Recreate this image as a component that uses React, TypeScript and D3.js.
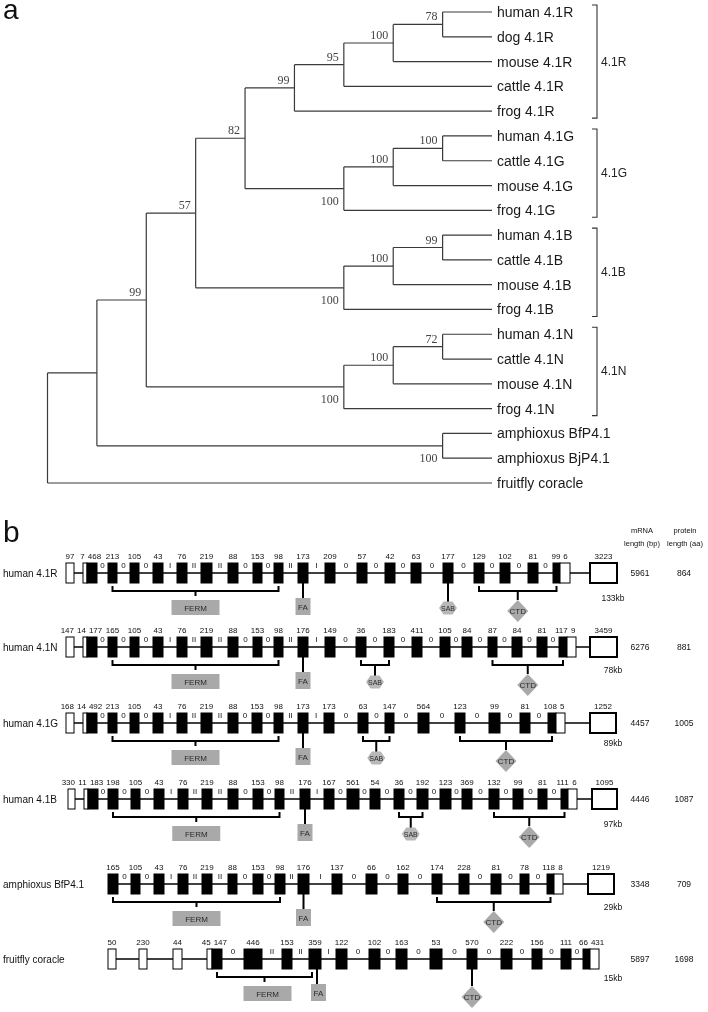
import React from 'react';
import * as d3 from 'd3';

// ---------------- Panel a: phylogeny (Newick with bootstrap supports) ----------------
const clade41R = '((((human 4.1R,dog 4.1R)78,mouse 4.1R)100,cattle 4.1R)95,frog 4.1R)99';
const clade41G = '(((human 4.1G,cattle 4.1G)100,mouse 4.1G)100,frog 4.1G)100';
const clade41B = '(((human 4.1B,cattle 4.1B)99,mouse 4.1B)100,frog 4.1B)100';
const clade41N = '(((human 4.1N,cattle 4.1N)72,mouse 4.1N)100,frog 4.1N)100';
const cladeAmph = '(amphioxus BfP4.1,amphioxus BjP4.1)100';
const NEWICK = `(((((${clade41R},${clade41G})82,${clade41B})57,${clade41N})99,${cladeAmph}),fruitfly coracle);`;
const cladeNames = ['4.1R', '4.1G', '4.1B', '4.1N'];

// ---------------- Panel b: gene structures ----------------
const geneNames = ['human 4.1R', 'human 4.1N', 'human 4.1G', 'human 4.1B', 'amphioxus BfP4.1', 'fruitfly coracle'];
const mrnaLength = [5961, 6276, 4457, 4446, 3348, 5897];
const proteinLength = [864, 881, 1005, 1087, 709, 1698];
const genomicSize = ['133kb', '78kb', '89kb', '97kb', '29kb', '15kb'];

const exons41R = [97, 7, 468, 213, 105, 43, 76, 219, 88, 153, 98, 173, 209, 57, 42, 63, 177, 129, 102, 81, 99, 6, 3223];
const kinds41R = 'ww' + 'b'.repeat(19) + 'wu';
const phases41R = ['0', '0', '0', 'I', 'II', 'II', '0', '0', 'II', 'I', '0', '0', '0', '0', '0', '0', '0', '0'];

const exons41N = [147, 14, 177, 165, 105, 43, 76, 219, 88, 153, 98, 176, 149, 36, 183, 411, 105, 84, 87, 84, 81, 117, 9, 3459];
const kinds41N = 'ww' + 'b'.repeat(20) + 'wu';
const phases41N = ['0', '0', '0', 'I', 'II', 'II', '0', '0', 'II', 'I', '0', '0', '0', '0', '0', '0', '0', '0', '0'];

const exons41G = [168, 14, 492, 213, 105, 43, 76, 219, 88, 153, 98, 173, 173, 63, 147, 564, 123, 99, 81, 108, 5, 1252];
const kinds41G = 'ww' + 'b'.repeat(18) + 'wu';
const phases41G = ['0', '0', '0', 'I', 'II', 'II', '0', '0', 'II', 'I', '0', '0', '0', '0', '0', '0', '0'];

const exons41B = [330, 11, 183, 198, 105, 43, 76, 219, 88, 153, 98, 176, 167, 561, 54, 36, 192, 123, 369, 132, 99, 81, 111, 6, 1095];
const kinds41B = 'ww' + 'b'.repeat(21) + 'wu';
const phases41B = ['0', '0', '0', 'I', 'II', 'II', '0', '0', 'II', 'I', '0', '0', '0', '0', '0', '0', '0', '0', '0', '0'];

const exonsBf = [165, 105, 43, 76, 219, 88, 153, 98, 176, 137, 66, 162, 174, 228, 81, 78, 118, 8, 1219];
const kindsBf = 'b'.repeat(17) + 'wu';
const phasesBf = ['0', '0', 'I', 'II', 'II', '0', '0', 'II', 'I', '0', '0', '0', '', '0', '0', '0'];

const exonsDm = [50, 230, 44, 45, 147, 446, 153, 359, 122, 102, 163, 53, 570, 222, 156, 111, 66, 431];
const kindsDm = 'wwww' + 'b'.repeat(13) + 'w';
const phasesDm = ['0', 'II', 'II', 'I', '0', '0', '0', '0', '0', '0', '0', '0'];

// domain -> exon indices
const fermExons = [[3, 10], [3, 10], [3, 10], [3, 10], [0, 7], [4, 7]];
const faExon = [11, 11, 11, 11, 8, 7];
const sabExons: (number[] | null)[] = [[16, 16], [13, 14], [13, 14], [15, 16], null, null];
const ctdExons = [[17, 20], [18, 21], [16, 19], [19, 22], [12, 16], [12, 12]];

// ---------------- schematic layout (not data) ----------------
const rowY = [573, 647, 723, 799, 884, 959];
const kbDy = [28, 26, 23, 28, 26, 22];
const exLeft = [
  [66, 83, 87, 108, 130, 153, 177, 201, 228, 253, 274, 298, 325, 357, 385, 411, 443, 474, 500, 528, 553, 560, 590],
  [66, 83, 87, 108, 130, 153, 177, 201, 228, 253, 274, 298, 325, 356, 384, 412, 440, 462, 488, 512, 537, 559, 567, 590],
  [66, 83, 87, 108, 130, 153, 177, 201, 228, 252, 274, 298, 324, 358, 385, 418, 455, 489, 520, 548, 556, 590],
  [68, 84, 88, 108, 131, 154, 178, 202, 228, 253, 275, 300, 324, 347, 370, 394, 417, 440, 462, 489, 513, 538, 561, 568, 592],
  [108, 131, 154, 178, 202, 228, 253, 275, 298, 332, 366, 398, 432, 459, 491, 520, 547, 554, 588],
  [108, 139, 173, 207, 212, 244, 282, 309, 336, 369, 396, 430, 467, 501, 532, 561, 583, 590],
];
const exRight = [
  [74, 87, 97, 117, 139, 163, 187, 212, 238, 262, 283, 308, 335, 367, 395, 421, 453, 484, 510, 538, 560, 570, 617],
  [74, 87, 97, 117, 139, 163, 187, 212, 238, 262, 283, 308, 335, 366, 394, 422, 450, 472, 497, 522, 547, 567, 576, 617],
  [74, 87, 97, 117, 139, 163, 187, 212, 238, 262, 283, 308, 334, 368, 394, 429, 465, 500, 530, 556, 565, 616],
  [75, 88, 98, 118, 140, 164, 188, 212, 238, 263, 284, 310, 334, 359, 380, 404, 428, 451, 472, 499, 523, 547, 568, 577, 617],
  [118, 140, 164, 188, 212, 237, 263, 285, 309, 342, 377, 408, 442, 469, 501, 529, 554, 563, 614],
  [116, 147, 182, 212, 222, 262, 292, 321, 347, 380, 407, 442, 477, 512, 542, 571, 590, 599],
];

const allExons = [exons41R, exons41N, exons41G, exons41B, exonsBf, exonsDm];
const allKinds = [kinds41R, kinds41N, kinds41G, kinds41B, kindsBf, kindsDm];
const allPhases = [phases41R, phases41N, phases41G, phases41B, phasesBf, phasesDm];

type TNode = { name?: string; support?: string; children?: TNode[] };
function parseNewick(s: string): TNode {
  let i = 0;
  function node(): TNode {
    const n: TNode = {};
    if (s[i] === '(') {
      i++;
      n.children = [node()];
      while (s[i] === ',') { i++; n.children.push(node()); }
      i++;
    }
    let lab = '';
    while (i < s.length && !',);'.includes(s[i])) lab += s[i++];
    if (n.children) { if (lab) n.support = lab; } else n.name = lab;
    return n;
  }
  return node();
}

const SANS = "'Liberation Sans', Arial, Helvetica, sans-serif";
const SERIF = "'Liberation Serif', 'DejaVu Serif', serif";
const GREY = '#a9a9a9';

function Tree() {
  const root = d3.hierarchy<TNode>(parseNewick(NEWICK), d => d.children);
  const leaves = root.leaves();
  const yLeaf = d3.scaleLinear().domain([0, leaves.length - 1]).range([12, 483]);
  const xH = d3.scaleLinear().domain([0, root.height]).range([492, 47.5]);
  const pos = new Map<any, { x: number; y: number }>();
  leaves.forEach((l, i) => pos.set(l, { x: xH(0), y: yLeaf(i) }));
  root.eachAfter(n => {
    if (n.children) {
      const a = pos.get(n.children[0])!, b = pos.get(n.children[n.children.length - 1])!;
      pos.set(n, { x: xH(n.height), y: (a.y + b.y) / 2 });
    }
  });
  const els: JSX.Element[] = [];
  let k = 0;
  root.each(n => {
    const p = pos.get(n)!;
    if (n.parent) {
      const pp = pos.get(n.parent)!;
      els.push(<line key={k++} x1={pp.x} x2={p.x} y1={p.y} y2={p.y} />);
    }
    if (n.children) {
      const a = pos.get(n.children[0])!, b = pos.get(n.children[n.children.length - 1])!;
      els.push(<line key={k++} x1={p.x} x2={p.x} y1={a.y} y2={b.y} />);
    }
  });
  const supports: JSX.Element[] = [];
  root.each(n => {
    if (n.children && n.data.support && n.parent) {
      const p = pos.get(n)!;
      const sibs = n.parent.children!;
      const below = sibs[sibs.length - 1] === n;
      supports.push(
        <text key={k++} x={p.x - 5} y={below ? p.y + 16 : p.y - 4} textAnchor="end"
          fontFamily={SERIF} fontSize={12} fill="#444">{n.data.support}</text>
      );
    }
  });
  const labels = leaves.map((l, i) => (
    <text key={'l' + i} x={497} y={yLeaf(i) + 5} fontFamily={SANS} fontSize={14} fill="#1a1a1a">{l.data.name}</text>
  ));
  const brackets = cladeNames.map(c => {
    const idx = leaves.map((l, i) => (l.data.name!.endsWith(' ' + c) ? i : -1)).filter(i => i >= 0);
    const y1 = yLeaf(idx[0]) - 7, y2 = yLeaf(idx[idx.length - 1]) + 7;
    return (
      <g key={c}>
        <path d={`M592,${y1}H597V${y2}H592`} fill="none" stroke="#333" strokeWidth={1.1} />
        <text x={601} y={(y1 + y2) / 2 + 4} fontFamily={SANS} fontSize={12} fill="#222">{c}</text>
      </g>
    );
  });
  return (
    <g>
      <g stroke="#3a3a3a" strokeWidth={1.2}>{els}</g>
      {supports}
      {labels}
      {brackets}
    </g>
  );
}

function textW(s: string, fs: number) { return s.length * fs * 0.556; }

function GeneRow({ gi }: { gi: number }) {
  const xs = d3.scaleLinear().domain([0, 708]).range([0, 708]);
  const y = rowY[gi];
  const ex = allExons[gi], kinds = allKinds[gi], ph = allPhases[gi];
  const L = exLeft[gi].map(v => xs(v)), R = exRight[gi].map(v => xs(v));
  const c = (i: number) => (L[i] + R[i]) / 2;
  const FS = 8;
  // exon label centres, separating adjacent split boxes
  const lc = ex.map((_, i) => c(i));
  for (let i = 0; i < ex.length - 1; i++) {
    if (R[i] === L[i + 1]) {
      const need = textW(String(ex[i]), FS) / 2 + textW(String(ex[i + 1]), FS) / 2 + 3;
      const have = lc[i + 1] - lc[i];
      if (need > have) { const d = (need - have) / 2; lc[i] -= d; lc[i + 1] += d; }
    }
  }
  // keep a leading UTR label clear of its right neighbour
  for (let i = 0; i < ex.length - 1; i++) {
    const gap = (lc[i + 1] - textW(String(ex[i + 1]), FS) / 2) - (lc[i] + textW(String(ex[i]), FS) / 2);
    if (gap < 3 && R[i] !== L[i + 1]) lc[i] -= 3 - gap;
  }
  const coding = ex.map((_, i) => i).filter(i => kinds[i] === 'b');
  const bY = y + 18;
  const els: JSX.Element[] = [];
  let k = 0;
  els.push(<line key={k++} x1={L[0]} x2={R[R.length - 1]} y1={y} y2={y} stroke="#000" strokeWidth={1.5} />);
  ex.forEach((v, i) => {
    const kind = kinds[i];
    els.push(
      <rect key={k++} x={L[i]} y={y - 10} width={R[i] - L[i]} height={20}
        fill={kind === 'b' ? '#000' : '#fff'} stroke="#000" strokeWidth={kind === 'u' ? 2 : 1} />
    );
    els.push(
      <text key={k++} x={lc[i]} y={y - 14} textAnchor="middle" fontSize={FS} fill="#111">{v}</text>
    );
  });
  for (let j = 0; j < coding.length - 1; j++) {
    const a = coding[j], b = coding[j + 1];
    if (!ph[j]) continue;
    els.push(
      <text key={k++} x={(R[a] + L[b]) / 2} y={y - 5} textAnchor="middle" fontSize={8} fill="#111">{ph[j]}</text>
    );
  }
  // FERM
  const [fs, fe] = fermExons[gi];
  const faShared = faExon[gi] === fe;
  const fx1 = c(fs), fx2 = c(fe) - (faShared ? 3 : 0), fm = (fx1 + fx2) / 2;
  els.push(<path key={k++} d={`M${fx1},${bY - 5}V${bY}H${fx2}V${bY - 5}M${fm},${bY}V${bY + 5}`} fill="none" stroke="#000" strokeWidth={2} />);
  els.push(<rect key={k++} x={fm - 24 + (faShared ? 3 : 0)} y={y + 27} width={48} height={15} fill={GREY} />);
  els.push(<text key={k++} x={fm + (faShared ? 3 : 0)} y={y + 37.5} textAnchor="middle" fontSize={8} fill="#2a2a2a">FERM</text>);
  // FA
  const fax = c(faExon[gi]) + (faShared ? 2 : 0);
  els.push(<line key={k++} x1={fax} x2={fax} y1={y + 10} y2={y + 25} stroke="#000" strokeWidth={2} />);
  els.push(<rect key={k++} x={fax - 7.5 + (faShared ? 1.5 : 0)} y={y + 25} width={15} height={17} fill={GREY} />);
  els.push(<text key={k++} x={fax + (faShared ? 1.5 : 0)} y={y + 36.5} textAnchor="middle" fontSize={8} fill="#2a2a2a">FA</text>);
  // SAB
  const sab = sabExons[gi];
  if (sab) {
    const s1 = c(sab[0]), s2 = c(sab[1]), sm = (s1 + s2) / 2, hy = y + 35;
    if (sab[0] === sab[1]) {
      els.push(<line key={k++} x1={sm} x2={sm} y1={y + 10} y2={hy - 6} stroke="#000" strokeWidth={2} />);
    } else {
      els.push(<path key={k++} d={`M${s1},${bY - 5}V${bY}H${s2}V${bY - 5}M${sm},${bY}V${hy - 6}`} fill="none" stroke="#000" strokeWidth={2} />);
    }
    const hw = 9, hh = 6.5;
    const pts = [[sm - hw, hy], [sm - hw / 2, hy - hh], [sm + hw / 2, hy - hh], [sm + hw, hy], [sm + hw / 2, hy + hh], [sm - hw / 2, hy + hh]];
    els.push(<polygon key={k++} points={pts.map(p => p.join(',')).join(' ')} fill="#b8b8b8" />);
    els.push(<text key={k++} x={sm} y={hy + 2.5} textAnchor="middle" fontSize={7} fill="#2a2a2a">SAB</text>);
  }
  // CTD
  const [cs, ce] = ctdExons[gi];
  const c1 = c(cs), c2 = c(ce), cm = (c1 + c2) / 2, dy = y + 38;
  if (cs === ce) {
    els.push(<line key={k++} x1={cm} x2={cm} y1={y + 10} y2={dy - 11} stroke="#000" strokeWidth={2} />);
  } else {
    els.push(<path key={k++} d={`M${c1},${bY - 5}V${bY}H${c2}V${bY - 5}M${cm},${bY}V${dy - 11}`} fill="none" stroke="#000" strokeWidth={2} />);
  }
  els.push(<polygon key={k++} points={`${cm},${dy - 11} ${cm + 10.5},${dy} ${cm},${dy + 11} ${cm - 10.5},${dy}`} fill={GREY} />);
  els.push(<text key={k++} x={cm} y={dy + 3} textAnchor="middle" fontSize={8} fill="#2a2a2a">CTD</text>);
  // labels
  els.push(<text key={k++} x={3} y={y + 4} fontSize={10} fill="#111">{geneNames[gi]}</text>);
  els.push(<text key={k++} x={613} y={y + kbDy[gi]} textAnchor="middle" fontSize={8.5} fill="#111">{genomicSize[gi]}</text>);
  els.push(<text key={k++} x={640} y={y + 3} textAnchor="middle" fontSize={8.5} fill="#111">{mrnaLength[gi]}</text>);
  els.push(<text key={k++} x={684} y={y + 3} textAnchor="middle" fontSize={8.5} fill="#111">{proteinLength[gi]}</text>);
  return <g>{els}</g>;
}

export default function App() {
  return (
    <svg width={708} height={1012} viewBox="0 0 708 1012"
      style={{ position: 'absolute', left: 0, top: 0, background: '#fff', willChange: 'transform', opacity: 0.999 }}
      fontFamily={SANS}>
      <rect width={708} height={1012} fill="#fff" />
      <text x={3} y={19} fontSize={28} fontFamily={SANS} fill="#111">a</text>
      <Tree />
      <text x={3} y={542} fontSize={30} fontFamily={SANS} fill="#111">b</text>
      <text x={642} y={533} textAnchor="middle" fontSize={7.5} fill="#111">mRNA</text>
      <text x={642} y={546} textAnchor="middle" fontSize={7.5} fill="#111">length (bp)</text>
      <text x={685} y={533} textAnchor="middle" fontSize={7.5} fill="#111">protein</text>
      <text x={685} y={546} textAnchor="middle" fontSize={7.5} fill="#111">length (aa)</text>
      {geneNames.map((_, gi) => <GeneRow key={gi} gi={gi} />)}
    </svg>
  );
}
